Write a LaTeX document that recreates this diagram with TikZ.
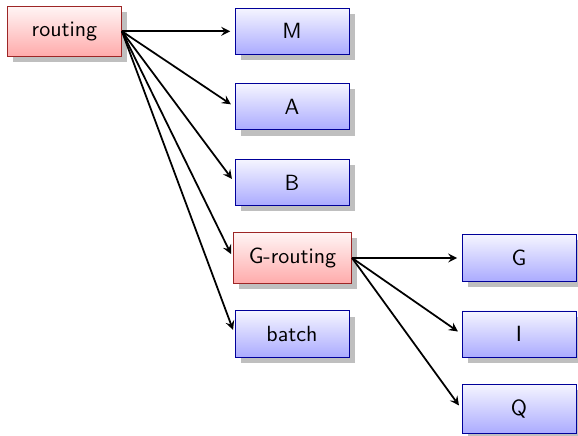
\documentclass[tikz,border=0pt]{standalone}
\usepackage{amsmath,amssymb}
\usepackage{xcolor}
\usepackage{tikz}
\usetikzlibrary{shadows}

\begin{document}
\begin{tikzpicture}[font=\sffamily,
  mod/.style={draw=blue!60!black, top color=blue!4, bottom color=blue!33,
    minimum width=51.8pt, inner xsep=7pt, inner ysep=7pt,
    drop shadow={shadow xshift=2.6pt, shadow yshift=-2.6pt}},
  router/.style={mod, draw=red!55!black!85, top color=red!4, bottom color=red!33},
  link/.style={->, >=stealth, thick, shorten >=2pt}]
  \useasboundingbox (0,0) rectangle (9.234,-6.965);
  \node[router] (routing)  at (1.03,-0.50)  {routing};
  \node[mod]    (M)        at (4.665,-0.50) {M};
  \node[mod]    (A)        at (4.665,-1.706) {A};
  \node[mod]    (B)        at (4.665,-2.915) {B};
  \node[router] (grouting) at (4.673,-4.122) {G-routing};
  \node[mod]    (batch)    at (4.665,-5.336) {batch};
  \node[mod]    (G)        at (8.291,-4.122) {G};
  \node[mod]    (I)        at (8.291,-5.336) {I};
  \node[mod]    (Q)        at (8.291,-6.534) {Q};
  \draw[link] (routing.east) -- (M.west);
  \draw[link] (routing.east) -- (A.west);
  \draw[link] (routing.east) -- (B.west);
  \draw[link] (routing.east) -- (grouting.west);
  \draw[link] (routing.east) -- (batch.west);
  \draw[link] (grouting.east) -- (G.west);
  \draw[link] (grouting.east) -- (I.west);
  \draw[link] (grouting.east) -- (Q.west);
\end{tikzpicture}
\end{document}
